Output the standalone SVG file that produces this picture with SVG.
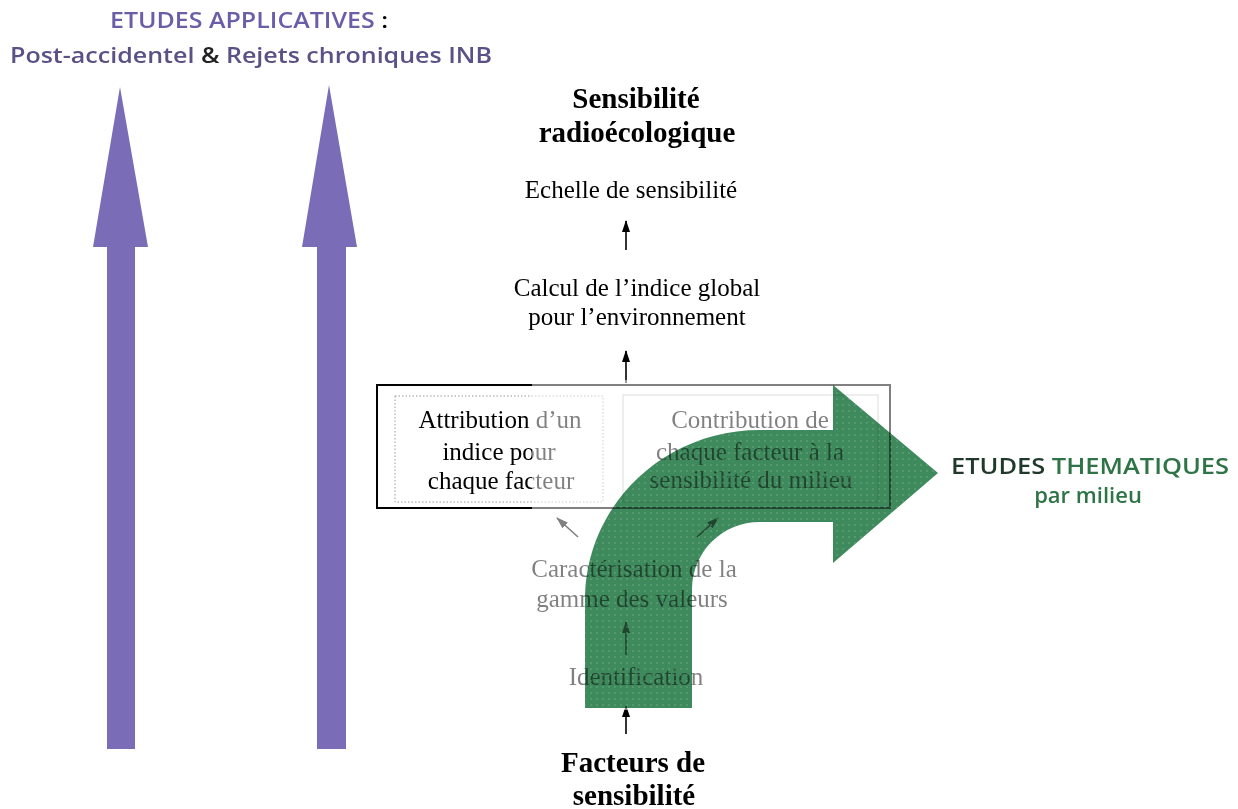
<svg xmlns="http://www.w3.org/2000/svg" width="1238" height="809" viewBox="0 0 1238 809">
<style>
.t{font-family:"Liberation Serif","Times New Roman",serif;font-size:25px;fill:#000;text-anchor:middle}
.b{font-family:"Liberation Serif","Times New Roman",serif;font-size:29px;font-weight:bold;fill:#000;text-anchor:middle}
.s{font-family:"Open Sans","DejaVu Sans",sans-serif;font-size:22px;font-weight:600;text-anchor:middle}
.c{stroke:#000;stroke-width:1.6;fill:none;marker-end:url(#ah)}
</style>
<defs>
<marker id="ah" viewBox="0 0 12 8" refX="11" refY="4" markerWidth="7.5" markerHeight="5" orient="auto" markerUnits="strokeWidth">
<path d="M0,0 L12,4 L0,8 Z" fill="#000"/>
</marker>
<pattern id="dots" width="6" height="6" patternUnits="userSpaceOnUse">
<circle cx="3" cy="3" r="0.8" fill="#8fbf9f"/>
</pattern>
</defs>
<rect width="1238" height="809" fill="#fff"/>

<g id="purple-arrows" fill="#7a6cb6">
<path d="M107,749 L107,247 L93,247 L120,87 L148,247 L135,247 L135,749 Z"/>
<path d="M317,749 L317,247 L302,247 L329,85 L357,247 L346,247 L346,749 Z"/>
</g>

<g id="title-applicatives">
<text class="s" x="249" y="28" textLength="278" lengthAdjust="spacingAndGlyphs"><tspan fill="#6a5ea8">ETUDES APPLICATIVES</tspan><tspan fill="#000"> :</tspan></text>
<text class="s" x="251" y="63" textLength="482" lengthAdjust="spacingAndGlyphs" fill="#5a5186">Post-accidentel <tspan fill="#222">&amp;</tspan> Rejets chroniques INB</text>
</g>

<g id="node-sensibilite">
<text class="b" x="636" y="108">Sensibilité</text>
<text class="b" x="637" y="142">radioécologique</text>
</g>
<g id="node-echelle"><text class="t" x="631" y="198">Echelle de sensibilité</text></g>
<g id="node-calcul">
<text class="t" x="637" y="296">Calcul de l’indice global</text>
<text class="t" x="637" y="325">pour l’environnement</text>
</g>

<g id="node-box">
<rect x="377" y="385" width="513" height="123" fill="none" stroke="#000" stroke-width="2"/>
</g>
<g id="node-attribution">
<rect x="395" y="396" width="208" height="106" fill="none" stroke="#999" stroke-width="1" stroke-dasharray="1.5 2"/>
<text class="t" x="500" y="428">Attribution d’un</text>
<text class="t" x="499" y="460">indice pour</text>
<text class="t" x="501" y="489">chaque facteur</text>
</g>
<g id="node-contribution">
<rect x="623" y="395" width="255" height="107" fill="none" stroke="#bbb" stroke-width="1"/>
<text class="t" x="750" y="428">Contribution de</text>
<text class="t" x="750" y="460">chaque facteur à la</text>
<text class="t" x="751" y="488">sensibilité du milieu</text>
</g>
<g id="node-caracterisation">
<text class="t" x="634" y="577">Caractérisation de la</text>
<text class="t" x="632" y="607">gamme des valeurs</text>
</g>
<g id="node-identification"><text class="t" x="636" y="685">Identification</text></g>
<g id="node-facteurs">
<text class="b" x="633" y="772">Facteurs de</text>
<text class="b" x="634" y="805">sensibilité</text>
</g>

<g id="connectors">
<line class="c" x1="626" y1="250" x2="626" y2="221"/>
<line class="c" x1="626" y1="383" x2="626" y2="351"/>
<line class="c" x1="578" y1="537" x2="557" y2="518"/>
<line class="c" x1="697" y1="537" x2="718" y2="518"/>
<line class="c" x1="626" y1="655" x2="626" y2="622"/>
<line class="c" x1="626" y1="734" x2="626" y2="706"/>
</g>

<g id="green-arrow">
<rect x="532" y="380" width="408" height="330" fill="#fff" opacity="0.5"/>
<path d="M585,708 L585,600 C585,506 663,430 760,430 L833,430 L833,385 L938,473 L833,563 L833,522 L760,522 C722,522 692,552 692,590 L692,708 Z" fill="#3f8a5d" style="mix-blend-mode:multiply"/>
<path d="M585,708 L585,600 C585,506 663,430 760,430 L833,430 L833,385 L938,473 L833,563 L833,522 L760,522 C722,522 692,552 692,590 L692,708 Z" fill="url(#dots)" opacity="0.6"/>
</g>

<g id="title-thematiques">
<text class="s" x="1090" y="474" textLength="278" lengthAdjust="spacingAndGlyphs"><tspan fill="#1f3a2a">ETUDES</tspan><tspan fill="#2f7446"> THEMATIQUES</tspan></text>
<text class="s" x="1088" y="503" fill="#2f7446">par milieu</text>
</g>
</svg>
